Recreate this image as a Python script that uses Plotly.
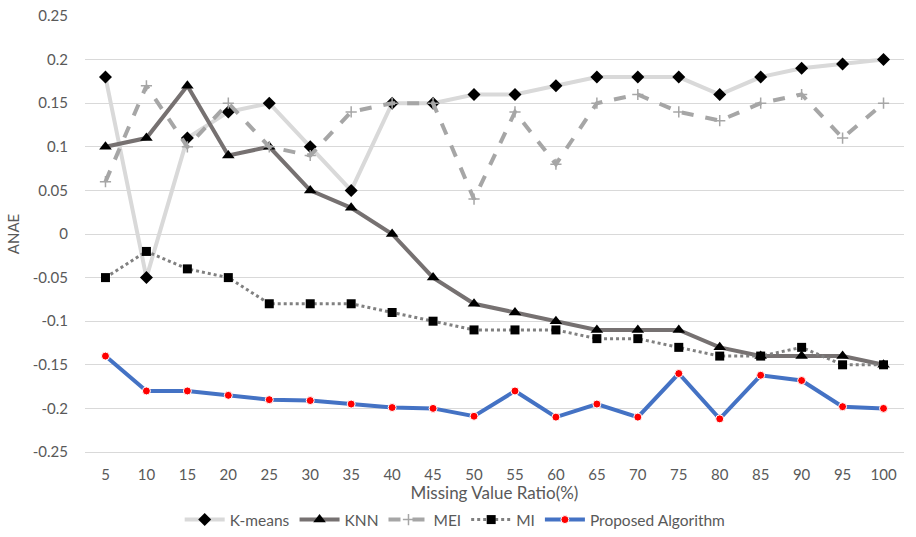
import plotly.graph_objects as go

ratios = [5, 10, 15, 20, 25, 30, 35, 40, 45, 50, 55, 60, 65, 70, 75, 80, 85, 90, 95, 100]
kmeans = [0.18, -0.05, 0.11, 0.14, 0.15, 0.10, 0.05, 0.15, 0.15, 0.16, 0.16, 0.17, 0.18, 0.18, 0.18, 0.16, 0.18, 0.19, 0.195, 0.20]
knn = [0.10, 0.11, 0.17, 0.09, 0.10, 0.05, 0.03, 0.00, -0.05, -0.08, -0.09, -0.10, -0.11, -0.11, -0.11, -0.13, -0.14, -0.14, -0.14, -0.15]
mei = [0.06, 0.17, 0.10, 0.15, 0.10, 0.09, 0.14, 0.15, 0.15, 0.04, 0.14, 0.08, 0.15, 0.16, 0.14, 0.13, 0.15, 0.16, 0.11, 0.15]
mi = [-0.05, -0.02, -0.04, -0.05, -0.08, -0.08, -0.08, -0.09, -0.10, -0.11, -0.11, -0.11, -0.12, -0.12, -0.13, -0.14, -0.14, -0.13, -0.15, -0.15]
proposed = [-0.14, -0.18, -0.18, -0.185, -0.19, -0.191, -0.195, -0.199, -0.20, -0.209, -0.18, -0.21, -0.195, -0.21, -0.16, -0.212, -0.162, -0.168, -0.198, -0.20]

y_ticks = [0.25, 0.2, 0.15, 0.1, 0.05, 0, -0.05, -0.1, -0.15, -0.2, -0.25]
y_tick_text = ["0.25", "0.2", "0.15", "0.1", "0.05", "0", "-0.05", "-0.1", "-0.15", "-0.2", "-0.25"]

FONT = "Lato, 'Open Sans', sans-serif"
TEXT = "#595959"

fig = go.Figure()
fig.add_trace(go.Scatter(x=ratios, y=kmeans, name="K-means", mode="lines+markers",
                         line=dict(color="#d9d9d9", width=4),
                         marker=dict(symbol="diamond", size=10, color="black")))
fig.add_trace(go.Scatter(x=ratios, y=knn, name="KNN", mode="lines+markers",
                         line=dict(color="#767171", width=4),
                         marker=dict(symbol="triangle-up", size=11, color="black")))
fig.add_trace(go.Scatter(x=ratios, y=mei, name="MEI", mode="lines+markers",
                         line=dict(color="#a6a6a6", width=4, dash="dash"),
                         marker=dict(symbol="cross-thin", size=8, color="#a6a6a6",
                                     line=dict(color="#a6a6a6", width=1.5))))
fig.add_trace(go.Scatter(x=ratios, y=mi, name="MI", mode="lines+markers",
                         line=dict(color="#808080", width=3, dash="dot"),
                         marker=dict(symbol="square", size=9, color="black")))
fig.add_trace(go.Scatter(x=ratios, y=proposed, name="Proposed Algorithm", mode="lines+markers",
                         line=dict(color="#4472c4", width=4),
                         marker=dict(symbol="circle", size=8, color="#ff0000",
                                     line=dict(color="white", width=1))))

fig.update_layout(
    width=916, height=537,
    margin=dict(l=85, r=12, t=16, b=85),
    paper_bgcolor="white", plot_bgcolor="white",
    font=dict(family=FONT, size=15, color=TEXT),
    xaxis=dict(range=[2.5, 102.5], tickvals=ratios, ticktext=[str(r) for r in ratios],
               showgrid=False, zeroline=False, showline=True, linecolor="#d9d9d9",
               ticks="", ticklabelstandoff=9, automargin=False,
               tickfont=dict(size=15, color=TEXT),
               title=dict(text="Missing Value Ratio(%)", standoff=16,
                          font=dict(size=17, color=TEXT))),
    yaxis=dict(range=[-0.25, 0.25], tickvals=y_ticks, ticktext=y_tick_text,
               showgrid=True, gridcolor="#d9d9d9", gridwidth=1, zeroline=False,
               ticks="", ticklabelstandoff=16, automargin=False, ticklabeloverflow="allow",
               tickfont=dict(size=15, color=TEXT),
               title=dict(text="ANAE", standoff=9, font=dict(size=15, color=TEXT))),
    legend=dict(orientation="h", x=0.452, xanchor="center", yref="container", y=0,
                yanchor="bottom", font=dict(size=15.5, color=TEXT), itemwidth=40),
    showlegend=True,
)

# remove the default page margin so the figure fills the window exactly
fig.write_html("out.html", config={"displayModeBar": False},
               post_script="document.body.style.margin='0';")
